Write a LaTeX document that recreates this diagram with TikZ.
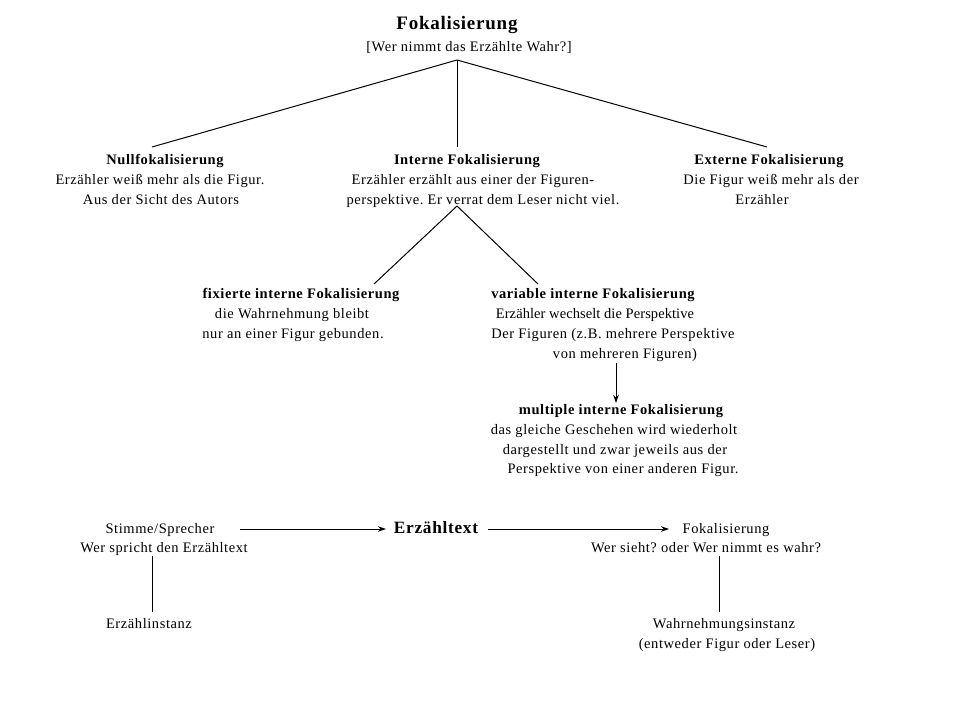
\documentclass[tikz,border=0pt]{standalone}
\usepackage{fontspec}
\setmainfont{Liberation Serif}[LetterSpace=4]
\usetikzlibrary{arrows.meta}
\frenchspacing
\begin{document}
\begin{tikzpicture}[x=1pt,y=-1pt,
  txt/.style={inner sep=0pt,anchor=base,font=\fontsize{14.5}{17}\selectfont},
  hd/.style={txt,font=\fontsize{14.5}{17}\selectfont\bfseries},
  conn/.style={line width=1pt},
  arr/.style={line width=1pt,-{Stealth[length=8pt,width=5.5pt]}}]
\useasboundingbox (0,0) rectangle (960,720);
% title
\node[txt,font=\fontsize{19}{22}\selectfont\bfseries] (title) at (457,29) {Fokalisierung};
\node[txt] (sub) at (469,51) {[Wer nimmt das Erzählte Wahr?]};
% level 1
\node[hd] (null) at (165,164) {Nullfokalisierung};
\node[txt] (null2) at (160,184) {Erzähler weiß mehr als die Figur.};
\node[txt] (null3) at (161,204) {Aus der Sicht des Autors};
\node[hd] (int) at (467,164) {Interne Fokalisierung};
\node[txt] (int2) at (473,184) {Erzähler erzählt aus einer der Figuren-};
\node[txt] (int3) at (483,204) {perspektive. Er verrat dem Leser nicht viel.};
\node[hd] (ext) at (769,164) {Externe Fokalisierung};
\node[txt] (ext2) at (771,184) {Die Figur weiß mehr als der};
\node[txt] (ext3) at (762,204) {Erzähler};
% level 2
\node[hd] (fix) at (301,298) {fixierte interne Fokalisierung};
\node[txt] (fix2) at (292,318) {die Wahrnehmung bleibt};
\node[txt] (fix3) at (293,338) {nur an einer Figur gebunden.};
\node[hd] (var) at (593,298) {variable interne Fokalisierung};
\node[txt] (var2) at (595,318) {\addfontfeature{LetterSpace=0.5}Erzähler wechselt die Perspektive};
\node[txt] (var3) at (613,338) {Der Figuren (z.B. mehrere Perspektive};
\node[txt] (var4) at (625,358) {von mehreren Figuren)};
% level 3
\node[hd] (mul) at (621,414) {multiple interne Fokalisierung};
\node[txt] (mul2) at (614,434) {das gleiche Geschehen wird wiederholt};
\node[txt] (mul3) at (615,454) {dargestellt und zwar jeweils aus der};
\node[txt] (mul4) at (623,473) {Perspektive von einer anderen Figur.};
% bottom row
\node[txt] (stim) at (160,533) {Stimme/Sprecher};
\node[txt] (stim2) at (164,552) {Wer spricht den Erzähltext};
\node[txt,font=\fontsize{17.3}{20}\selectfont\bfseries] (etext) at (436,533) {Erzähltext};
\node[txt] (fok) at (726,533) {Fokalisierung};
\node[txt] (fok2) at (706,552) {Wer sieht? oder Wer nimmt es wahr?};
\node[txt] (einst) at (149,628) {Erzählinstanz};
\node[txt] (wahr) at (724,628) {Wahrnehmungsinstanz};
\node[txt] (wahr2) at (727,648) {(entweder Figur oder Leser)};
% connector points
\coordinate (apex) at (457,60);
\coordinate (nullTop) at (152,147);
\coordinate (intTop) at (457,147);
\coordinate (extTop) at (767,147);
\coordinate (intBot) at (457,206);
\coordinate (fixTop) at (374,284);
\coordinate (varTop) at (538,284);
\coordinate (varBot) at (616,363);
\coordinate (mulTop) at (616,403);
\coordinate (stimR) at (240,529);
\coordinate (etextL) at (386,529);
\coordinate (etextR) at (488,529);
\coordinate (fokL) at (669,529);
\coordinate (stimBot) at (152,556);
\coordinate (einstTop) at (152,612);
\coordinate (fokBot) at (719,556);
\coordinate (wahrTop) at (719,612);
% connectors
\draw[conn] (apex) -- (nullTop);
\draw[conn] (apex) -- (intTop);
\draw[conn] (apex) -- (extTop);
\draw[conn] (intBot) -- (fixTop);
\draw[conn] (intBot) -- (varTop);
\draw[arr] (varBot) -- (mulTop);
\draw[arr] (stimR) -- (etextL);
\draw[arr] (etextR) -- (fokL);
\draw[conn] (stimBot) -- (einstTop);
\draw[conn] (fokBot) -- (wahrTop);
\end{tikzpicture}
\end{document}
